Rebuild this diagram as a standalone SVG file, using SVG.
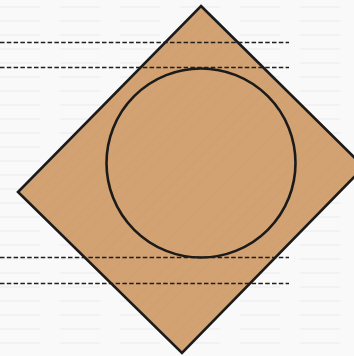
<svg xmlns="http://www.w3.org/2000/svg" width="354" height="356" viewBox="0 0 354 356">
  <defs>
    <pattern id="grain" patternUnits="userSpaceOnUse" width="9" height="9" patternTransform="rotate(45)">
      <rect width="9" height="9" fill="#d3a272"/>
      <line x1="0" y1="0" x2="0" y2="9" stroke="#c8956a" stroke-width="1.2" opacity="0.5"/>
    </pattern>
    <pattern id="paper" patternUnits="userSpaceOnUse" width="60" height="14">
      <rect width="60" height="14" fill="#f9f9f9"/>
      <line x1="0" y1="7" x2="40" y2="7" stroke="#ececec" stroke-width="1"/>
    </pattern>
  </defs>
  <style>
    .edge { stroke: #1b1b1b; stroke-width: 2.6; stroke-linejoin: miter; }
    .board { fill: url(#grain); }
    .ring { fill: none; }
    .guide { stroke: #1e1e1e; stroke-width: 1.4; stroke-dasharray: 4.5 2.3; fill: none; }
  </style>
  <rect width="354" height="356" fill="url(#paper)"/>
  <g id="board">
    <polygon points="201,6 364,167 182,353 18,192" class="edge board"/>
  </g>
  <g id="circle">
    <circle cx="201" cy="163" r="94.5" class="edge ring"/>
  </g>
  <g id="guides">
    <line x1="0" y1="42.5" x2="289" y2="42.5" class="guide"/>
    <line x1="0" y1="67.5" x2="289" y2="67.5" class="guide"/>
    <line x1="0" y1="257.5" x2="289" y2="257.5" class="guide"/>
    <line x1="0" y1="283.5" x2="289" y2="283.5" class="guide"/>
  </g>
</svg>
